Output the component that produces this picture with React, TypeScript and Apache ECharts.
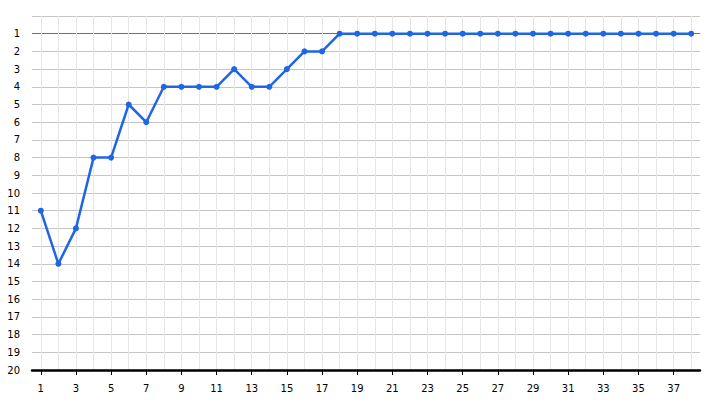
import React, { useEffect, useRef } from "react";
import * as echarts from "echarts";

const categories: string[] = Array.from({ length: 38 }, (_, i) => String(i + 1));
const positions: number[] = [
  11, 14, 12, 8, 8, 5, 6, 4, 4, 4, 4, 3, 4, 4, 3, 2, 2,
  1, 1, 1, 1, 1, 1, 1, 1, 1, 1, 1, 1, 1, 1, 1, 1, 1, 1, 1, 1, 1,
];
const yMin = 0;
const yMax = 20;

export default function App() {
  const ref = useRef<HTMLDivElement>(null);
  useEffect(() => {
    document.body.style.margin = "0";
    const chart = echarts.init(ref.current!, null, { renderer: "svg" });
    const splitColors = Array.from({ length: yMax - yMin + 1 }, (_, i) =>
      i === 1 ? "#707070" : "#c4c4c4"
    );
    chart.setOption({
      animation: false,
      backgroundColor: "#ffffff",
      textStyle: { fontFamily: "DejaVu Sans" },
      grid: { left: 32, right: 15, top: 16, bottom: 32, containLabel: false },
      xAxis: {
        type: "category",
        position: "bottom",
        data: categories,
        boundaryGap: true,
        axisLine: { onZero: false, lineStyle: { color: "#000", width: 2.5 } },
        axisTick: { show: true, alignWithLabel: true, interval: 1, length: 5, lineStyle: { color: "#000", width: 1 } },
        axisLabel: { interval: 1, color: "#000", fontSize: 10, margin: 13 },
        splitLine: {
          show: true,
          interval: 0,
          alignWithLabel: true,
          lineStyle: { color: "#e6e6e6", width: 1 },
        },
      } as any,
      yAxis: {
        type: "value",
        inverse: true,
        min: yMin,
        max: yMax,
        interval: 1,
        axisLine: { show: false },
        axisTick: { show: false },
        axisLabel: {
          color: "#000",
          fontSize: 10,
          margin: 12,
          formatter: (v: number) => (v === 0 ? "" : String(v)),
        },
        splitLine: { show: true, lineStyle: { color: splitColors, width: 1 } },
      },
      series: [
        {
          type: "line",
          data: positions,
          symbol: "circle",
          symbolSize: 6,
          lineStyle: { color: "#1f66e5", width: 2.5 },
          itemStyle: { color: "#1f66e5" },
        },
      ],
    });
    return () => chart.dispose();
  }, []);
  return <div ref={ref} style={{ width: 715, height: 402 }} />;
}
